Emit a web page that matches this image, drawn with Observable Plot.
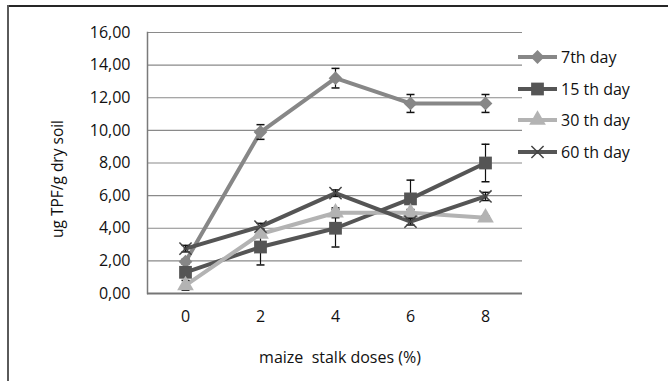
<!DOCTYPE html>
<html>
<head>
<meta charset="utf-8">
<script src="https://cdn.jsdelivr.net/npm/d3@7"></script>
<script src="https://cdn.jsdelivr.net/npm/@observablehq/plot@0.6"></script>
<style>
  html, body { margin: 0; padding: 0; background: #fff; overflow: hidden; }
  body { width: 668px; height: 381px; position: relative; font-family: "Open Sans", sans-serif; }
  #frameTop { position: absolute; left: 7px; top: 5px; width: 661px; height: 1.5px; background: #262626; }
  #frameLeft { position: absolute; left: 7px; top: 5px; width: 2px; height: 376px; background: #5a5a5a; }
  #chart { position: absolute; left: 0; top: 0; }
  #ylabel { position: absolute; left: 57px; top: 179px; transform: translate(-50%, -50%) rotate(-90deg);
            white-space: nowrap; font-size: 15.5px; color: #111; }
  #xlabel { position: absolute; left: 340px; top: 357px; transform: translate(-50%, -50%);
            white-space: pre; font-size: 16px; color: #111; }
  #legend { position: absolute; left: 517px; top: 41px; }
  .row { display: flex; align-items: center; height: 31.8px; }
  .row span { font-size: 16px; color: #111; margin-left: 2px; white-space: nowrap; }
</style>
</head>
<body>
<div id="frameTop"></div>
<div id="frameLeft"></div>
<div id="chart"></div>
<div id="ylabel"></div>
<div id="xlabel"></div>
<div id="legend"></div>
<script>
// ---- data ----
const doses = [0, 2, 4, 6, 8];
const seriesNames = ["7th day", "15 th day", "30 th day", "60 th day"];
const day7  = [1.95, 9.9, 13.2, 11.65, 11.65];
const err7  = [0.15, 0.45, 0.6, 0.55, 0.55];
const day15 = [1.3, 2.85, 4.0, 5.8, 8.0];
const err15 = [0.3, 1.1, 1.15, 1.15, 1.15];
const day30 = [0.5, 3.65, 4.95, 4.95, 4.65];
const err30 = [0.3, 0.2, 0.3, 0.2, 0.1];
const day60 = [2.75, 4.1, 6.15, 4.4, 5.95];
const err60 = [0.2, 0.2, 0.2, 0.2, 0.25];
const yTicks = [0, 2, 4, 6, 8, 10, 12, 14, 16];
const yLabel = "ug TPF/g dry soil";
const xLabel = "maize  stalk doses (%)";

const colors = ["#878787", "#555555", "#b3b3b3", "#555555"];
const symbols = ["diamond2", "square", "triangle", "times"];
const radii = [6.2, 7.2, 6.2, 5.6];

const values = [day7, day15, day30, day60];
const errors = [err7, err15, err30, err60];
const rows = [];
seriesNames.forEach((s, i) => {
  doses.forEach((d, j) => rows.push({series: s, idx: i, dose: d, v: values[i][j], e: errors[i][j]}));
});

const cap = {
  draw(context, size) {
    const w = 4;
    context.moveTo(-w, 0);
    context.lineTo(w, 0);
  }
};

const fmt = d => d.toFixed(2).replace(".", ",");

const marks = [
  Plot.ruleY(yTicks.filter(t => t > 0), {stroke: "#8a8a8a", strokeWidth: 1.2}),
  Plot.frame({anchor: "left", stroke: "#7a7a7a", strokeWidth: 1.5}),
  Plot.ruleY([0], {stroke: "#767676", strokeWidth: 2.2})
];
seriesNames.forEach((s, i) => {
  const data = rows.filter(r => r.idx === i);
  marks.push(Plot.line(data, {x: "dose", y: "v", stroke: colors[i], strokeWidth: 4}));
  marks.push(Plot.ruleX(data, {x: "dose", y1: r => r.v - r.e, y2: r => r.v + r.e, stroke: "#111", strokeWidth: 1.2}));
  marks.push(Plot.dot(data, {x: "dose", y: r => r.v - r.e, symbol: cap, stroke: "#111", strokeWidth: 1.5, r: 3}));
  marks.push(Plot.dot(data, {x: "dose", y: r => r.v + r.e, symbol: cap, stroke: "#111", strokeWidth: 1.5, r: 3}));
});
seriesNames.forEach((s, i) => {
  const data = rows.filter(r => r.idx === i);
  if (symbols[i] === "times") {
    marks.push(Plot.dot(data, {x: "dose", y: "v", symbol: "times", stroke: "#444", strokeWidth: 1.5, r: radii[i]}));
  } else {
    marks.push(Plot.dot(data, {x: "dose", y: "v", symbol: symbols[i], fill: colors[i], stroke: "none", r: radii[i]}));
  }
});

const chart = Plot.plot({
  width: 668,
  height: 381,
  marginLeft: 147,
  marginRight: 146,
  marginTop: 32,
  marginBottom: 88,
  style: {fontFamily: "Open Sans, sans-serif", fontSize: "16px", color: "#111", background: "transparent"},
  x: {type: "point", domain: doses, padding: 0.5, tickSize: 0, tickPadding: 17, label: null},
  y: {domain: [0, 16], ticks: yTicks, tickFormat: fmt, tickSize: 0, tickPadding: 17, label: null},
  marks
});
document.getElementById("chart").appendChild(chart);
document.getElementById("ylabel").textContent = yLabel;
document.getElementById("xlabel").textContent = xLabel;

// legend
const legend = document.getElementById("legend");
seriesNames.forEach((s, i) => {
  const row = document.createElement("div");
  row.className = "row";
  const svg = d3.create("svg").attr("width", 42).attr("height", 20);
  svg.append("line").attr("x1", 1).attr("x2", 40).attr("y1", 10).attr("y2", 10)
    .attr("stroke", colors[i]).attr("stroke-width", 4);
  const symMap = {diamond2: d3.symbolDiamond2, square: d3.symbolSquare, triangle: d3.symbolTriangle, times: d3.symbolTimes};
  const size = Math.PI * radii[i] * radii[i];
  const p = svg.append("path").attr("transform", "translate(20.5,10)")
    .attr("d", d3.symbol(symMap[symbols[i]], size)());
  if (symbols[i] === "times") p.attr("fill", "none").attr("stroke", "#444").attr("stroke-width", 1.5);
  else p.attr("fill", colors[i]);
  row.appendChild(svg.node());
  const t = document.createElement("span");
  t.textContent = s;
  row.appendChild(t);
  legend.appendChild(row);
});
</script>
</body>
</html>
